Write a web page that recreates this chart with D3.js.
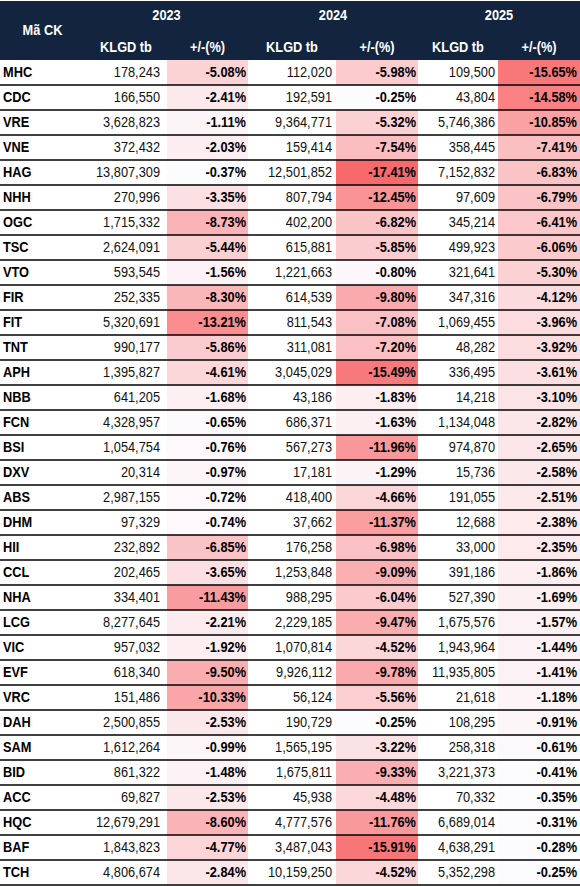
<!DOCTYPE html>
<html><head><meta charset="utf-8">
<script src="https://cdn.jsdelivr.net/npm/d3@7"></script>
<style>html,body{margin:0;padding:0;background:#fff;}svg{display:block;}</style>
</head><body>
<script>
const codes = ["MHC","CDC","VRE","VNE","HAG","NHH","OGC","TSC","VTO","FIR","FIT","TNT","APH","NBB","FCN","BSI","DXV","ABS","DHM","HII","CCL","NHA","LCG","VIC","EVF","VRC","DAH","SAM","BID","ACC","HQC","BAF","TCH"];
const years = ["2023","2024","2025"];
const subHeaders = ["KLGD tb","+/-(%)"];
const vol2023 = [178243,166550,3628823,372432,13807309,270996,1715332,2624091,593545,252335,5320691,990177,1395827,641205,4328957,1054754,20314,2987155,97329,232892,202465,334401,8277645,957032,618340,151486,2500855,1612264,861322,69827,12679291,1843823,4806674];
const pct2023 = [-5.08,-2.41,-1.11,-2.03,-0.37,-3.35,-8.73,-5.44,-1.56,-8.30,-13.21,-5.86,-4.61,-1.68,-0.65,-0.76,-0.97,-0.72,-0.74,-6.85,-3.65,-11.43,-2.21,-1.92,-9.50,-10.33,-2.53,-0.99,-1.48,-2.53,-8.60,-4.77,-2.84];
const vol2024 = [112020,192591,9364771,159414,12501852,807794,402200,615881,1221663,614539,811543,311081,3045029,43186,686371,567273,17181,418400,37662,176258,1253848,988295,2229185,1070814,9926112,56124,190729,1565195,1675811,45938,4777576,3487043,10159250];
const pct2024 = [-5.98,-0.25,-5.32,-7.54,-17.41,-12.45,-6.82,-5.85,-0.80,-9.80,-7.08,-7.20,-15.49,-1.83,-1.63,-11.96,-1.29,-4.66,-11.37,-6.98,-9.09,-6.04,-9.47,-4.52,-9.78,-5.56,-0.25,-3.22,-9.33,-4.48,-11.76,-15.91,-4.52];
const vol2025 = [109500,43804,5746386,358445,7152832,97609,345214,499923,321641,347316,1069455,48282,336495,14218,1134048,974870,15736,191055,12688,33000,391186,527390,1675576,1943964,11935805,21618,108295,258318,3221373,70332,6689014,4638291,5352298];
const pct2025 = [-15.65,-14.58,-10.85,-7.41,-6.83,-6.79,-6.41,-6.06,-5.30,-4.12,-3.96,-3.92,-3.61,-3.10,-2.82,-2.65,-2.58,-2.51,-2.38,-2.35,-1.86,-1.69,-1.57,-1.44,-1.41,-1.18,-0.91,-0.61,-0.41,-0.35,-0.31,-0.28,-0.25];

const vols = [vol2023, vol2024, vol2025];
const pcts = [pct2023, pct2024, pct2025];

const W = 580, H = 886;
const headTop = 1, headBot = 60, tableBot = 885;
// column edges: name | vol23 | pct23 | vol24 | pct24 | vol25 | pct25
const edges = [0, 85, 167, 248, 336, 418, 498, 580];
const FONT = "'Liberation Sans', Arial, sans-serif";
const FS = 12.8, SY = 1.18;

const loc = d3.formatLocale({decimal:".", thousands:",", grouping:[3], currency:["",""], minus:"-"});
const fVol = loc.format(",");
const fPct = v => loc.format(".2f")(v) + "%";

const svg = d3.select("body").append("svg").attr("width", W).attr("height", H);

const y = d3.scaleBand().domain(codes).range([headBot, tableBot]).padding(0);
const allPct = pcts.flat();
const color = d3.scaleLinear()
  .domain([d3.max(allPct), d3.min(allPct)])
  .range(["#FCFCFF", "#F8696B"])
  .interpolate(d3.interpolateRgb)
  .clamp(true);

function txt(g, x, yy, s, opt) {
  const t = g.append("g").attr("transform", `translate(${x},${yy}) scale(1,${SY})`)
    .append("text")
    .attr("x", 0).attr("y", 0)
    .attr("font-family", FONT)
    .attr("font-size", opt.size || FS)
    .attr("font-weight", opt.bold ? "bold" : "normal")
    .attr("fill", opt.fill || "#000")
    .attr("text-anchor", opt.anchor || "start")
    .text(s);
  return t;
}

// header
svg.append("rect").attr("x", 0).attr("y", headTop).attr("width", W).attr("height", headBot - headTop).attr("fill", "#13243f");
const hg = svg.append("g");
txt(hg, (edges[0] + edges[1]) / 2, 35, "Mã CK", {bold:true, fill:"#fff", anchor:"middle"});
years.forEach((yr, i) => {
  const x0 = edges[1 + i * 2], x1 = edges[3 + i * 2];
  txt(hg, (x0 + x1) / 2, 20, yr, {bold:true, fill:"#fff", anchor:"middle"});
  subHeaders.forEach((s, j) => {
    const a = edges[1 + i * 2 + j], b = edges[2 + i * 2 + j];
    txt(hg, (a + b) / 2, 52, s, {bold:true, fill:"#fff", anchor:"middle"});
  });
});

// body
const body = svg.append("g");
codes.forEach((c, r) => {
  const top = y(c), h = y.bandwidth();
  const base = top + 17;
  pcts.forEach((arr, i) => {
    body.append("rect")
      .attr("x", edges[2 + i * 2]).attr("y", top)
      .attr("width", edges[3 + i * 2] - edges[2 + i * 2]).attr("height", h)
      .attr("fill", color(arr[r]));
  });
  txt(body, 3, base, c, {bold:true});
  const volRight = [160, 332, 495];
  const pctRight = [246, 416, 577];
  vols.forEach((arr, i) => txt(body, volRight[i], base, fVol(arr[r]), {anchor:"end", fill:"#111"}));
  pcts.forEach((arr, i) => txt(body, pctRight[i], base, fPct(arr[r]), {anchor:"end", bold:true}));
});

// row lines
svg.append("g").selectAll("line").data(codes).join("line")
  .attr("x1", 0).attr("x2", W)
  .attr("y1", d => y(d) + y.bandwidth()).attr("y2", d => y(d) + y.bandwidth())
  .attr("stroke", "#000").attr("stroke-width", 1.3);
</script>
</body></html>
